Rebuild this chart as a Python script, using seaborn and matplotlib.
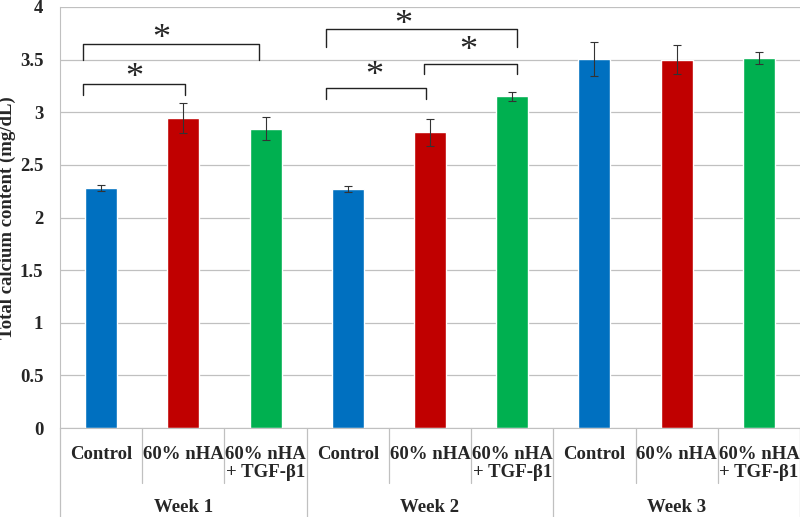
import numpy as np
import pandas as pd
import matplotlib
matplotlib.use("Agg")
import matplotlib.pyplot as plt
import seaborn as sns
from matplotlib.transforms import blended_transform_factory

# data
weeks = ["Week 1", "Week 2", "Week 3"]
treatments = ["Control", "60% nHA", "60% nHA\n+ TGF-β1"]
means = [2.28, 2.945, 2.845, 2.27, 2.81, 3.15, 3.505, 3.50, 3.515]
errors = [0.025, 0.14, 0.11, 0.025, 0.13, 0.04, 0.16, 0.14, 0.06]
colors = ["#0070C0", "#C00000", "#00B050"]

# significance brackets: (left x, right x, bar height, leg end, star x, star y)
brackets = [
    (-0.22, 1.02, 3.27, 3.16, 0.40, 3.40),
    (-0.22, 1.92, 3.65, 3.50, 0.73, 3.77),
    (2.73, 3.95, 3.23, 3.13, 3.32, 3.42),
    (3.93, 5.06, 3.46, 3.36, 4.46, 3.66),
    (2.73, 5.06, 3.79, 3.62, 3.67, 3.90),
]

df = pd.DataFrame({
    "bar": [str(i) for i in range(9)],
    "week": np.repeat(weeks, 3),
    "treatment": treatments * 3,
    "mean": means,
})

sns.set_style("white")
plt.rcParams["font.family"] = ["Liberation Serif", "DejaVu Serif"]

fig = plt.figure(figsize=(8, 5.17), dpi=100)
ax = fig.add_axes([0.075, 0.172, 0.925, 0.8145])

sns.barplot(data=df, x="bar", y="mean", hue="treatment", hue_order=treatments,
            palette=colors, dodge=False, width=0.39, legend=False, ax=ax,
            errorbar=None, saturation=1)

ax.errorbar(np.arange(9), means, yerr=errors, fmt="none", ecolor="#333333",
            elinewidth=0.8, capsize=3, capthick=0.8, zorder=4)

ax.set_xlim(-0.5, 8.5)
ax.set_ylim(0, 4)
ax.set_yticks(np.arange(0, 4.01, 0.5))
ax.set_yticklabels(["0", "0.5", "1", "1.5", "2", "2.5", "3", "3.5", "4"],
                   fontsize=13.5, fontweight="bold")
ax.yaxis.grid(True, color="#c0c0c0", linewidth=0.9)
ax.set_axisbelow(True)
ax.tick_params(axis="y", length=6, color="#c0c0c0", pad=6)
ax.set_xticks([])
ax.set_xlabel("")
ax.set_ylabel("Total calcium content (mg/dL)", fontsize=13.5, fontweight="bold")
ax.yaxis.set_label_coords(-0.059, 0.5)

for s in ["top", "right"]:
    ax.spines[s].set_visible(False)
ax.spines["left"].set_color("#c0c0c0")
ax.spines["bottom"].set_color("#c0c0c0")

# category axis below the bars
trans = blended_transform_factory(ax.transData, ax.transAxes)
for i in range(9):
    ax.text(i, -0.042, treatments[i % 3], transform=trans, ha="center", va="top",
            fontsize=13.5, fontweight="bold", linespacing=1.1)
for b in np.arange(-0.5, 9, 1.0):
    low = -0.22 if (b + 0.5) % 3 == 0 else -0.131
    ax.plot([b, b], [0, low], transform=trans, color="#c0c0c0", lw=0.9,
            clip_on=False)
for g, w in enumerate(weeks):
    ax.text(3 * g + 1, -0.188, w, transform=trans, ha="center", va="center",
            fontsize=13.5, fontweight="bold")

# brackets with stars
for x1, x2, top, leg, sx, sy in brackets:
    ax.plot([x1, x1, x2, x2], [leg, top, top, leg], color="#222222", lw=1.0)
    ax.text(sx, sy - 0.08, "*", ha="center", va="center", fontsize=26)

fig.savefig("out.png", dpi=100)
